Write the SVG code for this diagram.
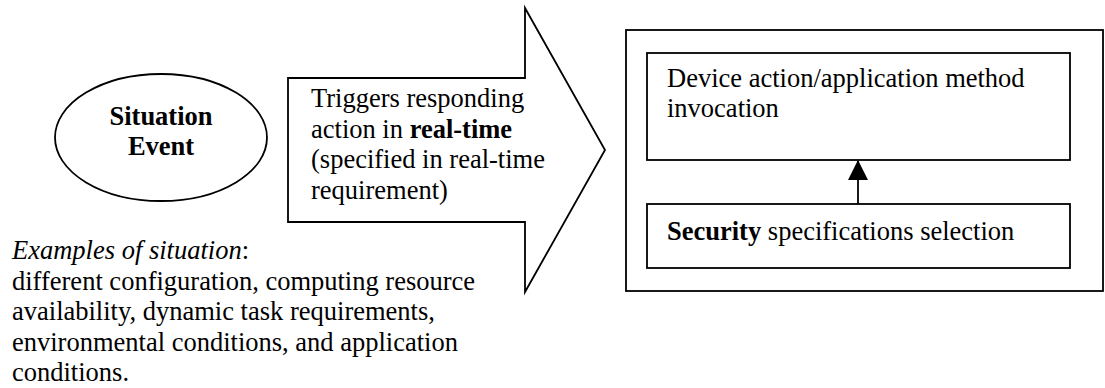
<svg xmlns="http://www.w3.org/2000/svg" width="1105" height="388" viewBox="0 0 1105 388">
  <defs>
    <style>
      .shape { fill: #ffffff; stroke: #000000; stroke-width: 1.8; }
      .txt { font-family: "Liberation Serif", "Times New Roman", serif; font-size: 26.5px; fill: #000000; }
      .b { font-weight: bold; }
      .i { font-style: italic; }
      .link { stroke: #000000; stroke-width: 1.8; fill: none; }
    </style>
    <marker id="head" markerUnits="userSpaceOnUse" markerWidth="20" markerHeight="20" viewBox="0 0 20 20" refX="19" refY="10" orient="auto">
      <path d="M0,0 L20,10 L0,20 Z" fill="#000000"/>
    </marker>
  </defs>
  <rect width="1105" height="388" fill="#ffffff"/>

  <!-- situation event -->
  <g id="situation-event">
    <ellipse class="shape" cx="161" cy="137.5" rx="106" ry="63.5"/>
    <text class="txt b" x="161" y="125" text-anchor="middle">Situation</text>
    <text class="txt b" x="161" y="155" text-anchor="middle">Event</text>
  </g>

  <!-- block arrow: real-time trigger -->
  <g id="trigger-arrow">
    <polygon class="shape" points="288,78 525,78 525,8 605,150 525,292 525,222 288,222"/>
    <text class="txt" x="311" y="107">Triggers responding</text>
    <text class="txt" x="311" y="137.5">action in <tspan class="b">real-time</tspan></text>
    <text class="txt" x="311" y="168">(specified in real-time</text>
    <text class="txt" x="311" y="198.5">requirement)</text>
  </g>

  <!-- response container -->
  <g id="response-container">
    <rect class="shape" x="626" y="30" width="477" height="261" stroke-width="2"/>
  </g>

  <g id="device-action">
    <rect class="shape" x="647" y="53" width="423" height="107"/>
    <text class="txt" x="667" y="86.5">Device action/application method</text>
    <text class="txt" x="667" y="117">invocation</text>
  </g>

  <g id="security-selection">
    <rect class="shape" x="647" y="204" width="423" height="64"/>
    <text class="txt" x="667" y="240"><tspan class="b">Security</tspan> specifications selection</text>
  </g>

  <!-- connectors -->
  <g id="connectors">
    <line class="link" x1="858" y1="204" x2="858" y2="161" marker-end="url(#head)"/>
  </g>

  <!-- examples note -->
  <g id="examples-note">
    <text class="txt" x="12" y="259"><tspan class="i">Examples of situation</tspan>:</text>
    <text class="txt" x="12" y="289.5">different configuration, computing resource</text>
    <text class="txt" x="12" y="320">availability, dynamic task requirements,</text>
    <text class="txt" x="12" y="350.5">environmental conditions, and application</text>
    <text class="txt" x="12" y="381">conditions.</text>
  </g>
</svg>
